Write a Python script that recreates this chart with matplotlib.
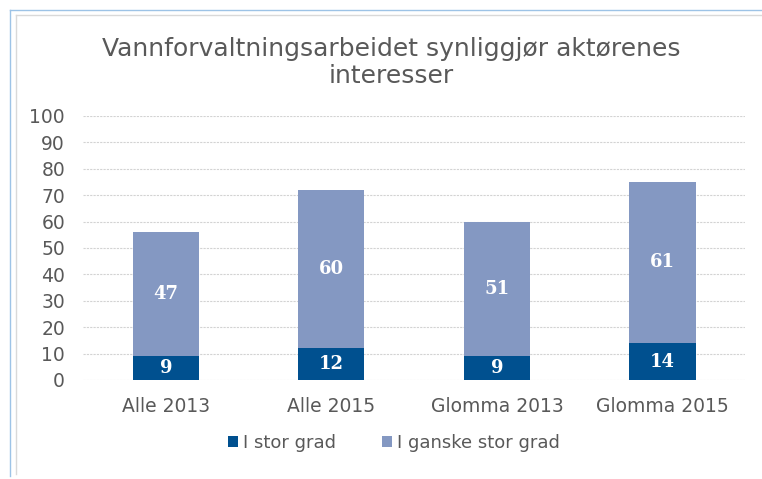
"""Stacked bar chart: Vannforvaltningsarbeidet synliggjør aktørenes interesser."""

import matplotlib
matplotlib.use("Agg")
import matplotlib.pyplot as plt
from matplotlib.lines import Line2D
from matplotlib.patches import Patch

categories = ["Alle 2013", "Alle 2015", "Glomma 2013", "Glomma 2015"]
stor_grad = [9, 12, 9, 14]
ganske_stor_grad = [47, 60, 51, 61]
series_names = ["I stor grad", "I ganske stor grad"]
y_ticks = [0, 10, 20, 30, 40, 50, 60, 70, 80, 90, 100]

DARK = "#00508F"
LIGHT = "#8498C2"
TEXT = "#595959"


def main() -> None:
    fig = plt.figure(figsize=(7.62, 4.79), dpi=100)
    ax = fig.add_axes([0.109, 0.2067, 0.869, 0.5513])

    x = list(range(len(categories)))
    ax.bar(x, stor_grad, width=0.4, color=DARK, zorder=3)
    ax.bar(x, ganske_stor_grad, width=0.4, bottom=stor_grad, color=LIGHT, zorder=3)

    for xi, a, b in zip(x, stor_grad, ganske_stor_grad):
        ax.text(xi, a / 2, str(a), ha="center", va="center", color="white",
                fontsize=13, fontweight="bold", family="DejaVu Serif", zorder=4)
        ax.text(xi, a + b / 2, str(b), ha="center", va="center", color="white",
                fontsize=13, fontweight="bold", family="DejaVu Serif", zorder=4)

    ax.set_xlim(-0.5, len(categories) - 0.5)
    ax.set_ylim(0, 100)
    ax.set_yticks(y_ticks)
    ax.set_xticks(x)
    ax.set_xticklabels(categories)
    ax.tick_params(axis="both", length=0, colors=TEXT, labelsize=13.5)
    ax.tick_params(axis="x", pad=12)
    ax.tick_params(axis="y", pad=13)
    for s in ax.spines.values():
        s.set_visible(False)
    ax.grid(axis="y", color="#D3D3D3", linestyle=(0, (2, 1)), linewidth=0.8, zorder=0)

    fig.text(0.513, 0.87, "Vannforvaltningsarbeidet synliggjør aktørenes\ninteresser",
             ha="center", va="center", fontsize=18, color=TEXT, linespacing=1.15)

    handles = [Patch(facecolor=DARK), Patch(facecolor=LIGHT)]
    fig.legend(handles, series_names, loc="center", bbox_to_anchor=(0.517, 0.075),
               ncol=2, frameon=False, fontsize=13, labelcolor=TEXT,
               handlelength=0.55, handleheight=0.55, handletextpad=0.3, columnspacing=2.5)

    # outer frame lines as in the screenshot
    fig.add_artist(Line2D([10 / 762, 1], [1 - 10 / 479] * 2, color="#9DC3E6", lw=1))
    fig.add_artist(Line2D([10 / 762] * 2, [1 - 10 / 479, 3 / 479], color="#9DC3E6", lw=1))
    fig.add_artist(Line2D([16 / 762, 1], [1 - 15 / 479] * 2, color="#D9D9D9", lw=1))
    fig.add_artist(Line2D([16 / 762] * 2, [1 - 15 / 479, 5 / 479], color="#D9D9D9", lw=1))

    fig.savefig("out.png", dpi=100)
    plt.close(fig)


if __name__ == "__main__":
    main()
